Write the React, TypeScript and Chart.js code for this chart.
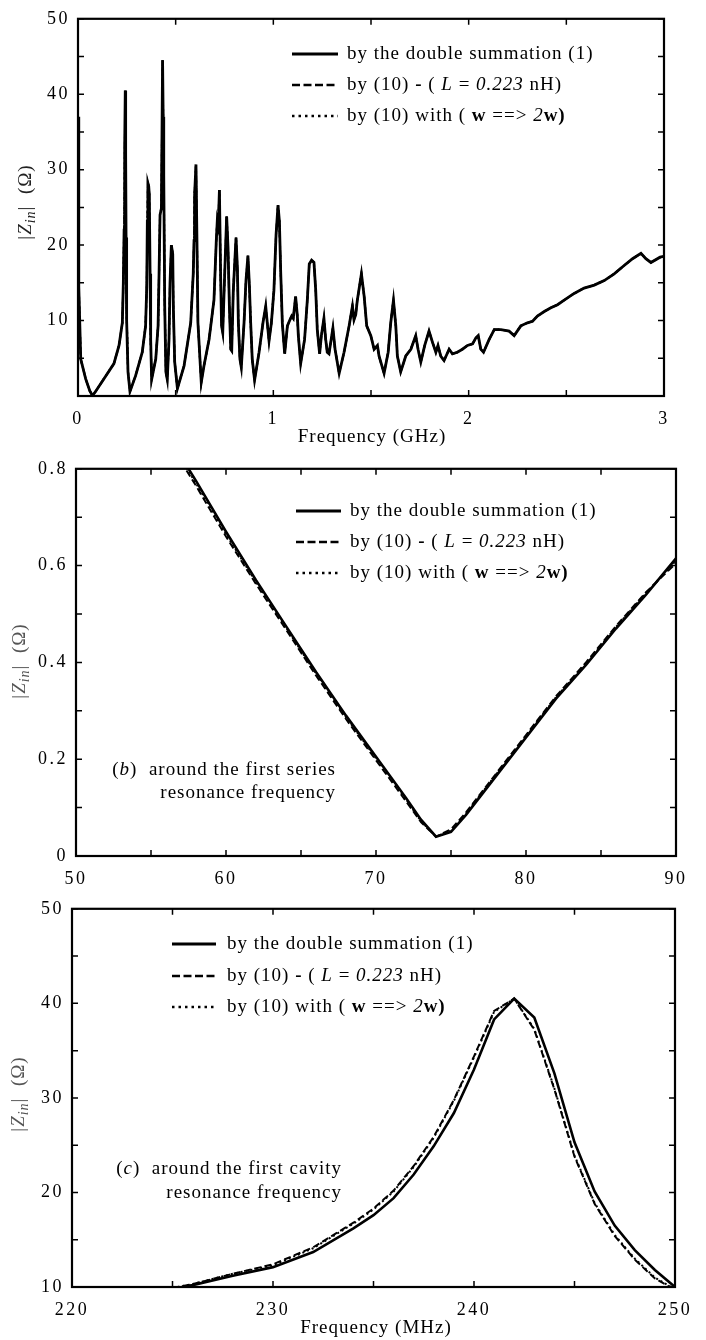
import React, { useEffect, useRef } from 'react';
import { Chart, registerables } from 'chart.js';

Chart.register(...registerables);

const SERIF = "'Liberation Serif', 'Times New Roman', Times, serif";

// ---------- Panel (a): 0 - 3 GHz ----------
const freqA = [
  0.0, 0.004, 0.014, 0.039, 0.06, 0.074, 0.09, 0.133, 0.184, 0.21, 0.227, 0.232, 0.236, 0.238, 0.24, 0.242,
  0.244, 0.246, 0.248, 0.25, 0.256, 0.266, 0.295, 0.329, 0.346, 0.352, 0.355, 0.358, 0.362, 0.365, 0.369,
  0.372, 0.377, 0.398, 0.41, 0.415, 0.42, 0.427, 0.433, 0.436, 0.439, 0.444, 0.45, 0.457, 0.466, 0.471,
  0.478, 0.485, 0.488, 0.495, 0.509, 0.543, 0.577, 0.59, 0.594, 0.597, 0.604, 0.609, 0.614, 0.631, 0.645,
  0.671, 0.696, 0.708, 0.713, 0.718, 0.724, 0.73, 0.735, 0.741, 0.751, 0.761, 0.768, 0.775, 0.782, 0.787,
  0.795, 0.809, 0.816, 0.821, 0.829, 0.836, 0.85, 0.86, 0.87, 0.877, 0.884, 0.892, 0.904, 0.927, 0.947,
  0.961, 0.969, 0.978, 0.99, 1.003, 1.014, 1.024, 1.031, 1.038, 1.046, 1.058, 1.072, 1.085, 1.094, 1.102,
  1.114, 1.123, 1.128, 1.14, 1.16, 1.174, 1.184, 1.196, 1.208, 1.217, 1.225, 1.237, 1.246, 1.259, 1.268,
  1.276, 1.285, 1.305, 1.316, 1.337, 1.362, 1.388, 1.405, 1.413, 1.422, 1.43, 1.451, 1.465, 1.478, 1.499,
  1.516, 1.533, 1.541, 1.567, 1.588, 1.601, 1.615, 1.627, 1.635, 1.652, 1.678, 1.704, 1.729, 1.741, 1.755,
  1.775, 1.797, 1.815, 1.832, 1.843, 1.857, 1.874, 1.9, 1.917, 1.942, 1.968, 1.994, 2.02, 2.037, 2.049,
  2.062, 2.076, 2.105, 2.131, 2.165, 2.207, 2.233, 2.267, 2.301, 2.327, 2.352, 2.387, 2.421, 2.455, 2.489,
  2.54, 2.591, 2.643, 2.694, 2.745, 2.796, 2.839, 2.882, 2.907, 2.933, 2.98, 3.0,
];
const zA = [
  37, 14.5, 4.9, 2.3, 0.7, 0.05, 0.6, 2.3, 4.3, 6.7, 9.7, 14.9, 22.0, 25, 33, 40.5,
  32, 21, 14, 10, 3.2, 0.6, 2.7, 5.8, 9.3, 14.5, 23.2, 28.2, 27.8, 26.7, 16.2,
  7.5, 2.2, 4.9, 9.3, 16.2, 24, 24.9, 44.5, 37, 29.3, 11.9, 3.2, 2.2, 7.5, 14.9,
  20, 18.8, 11.9, 4.5, 1.0, 4, 9.7, 16.2, 20.6, 26.7, 30.7, 20.6, 9.7, 1.8, 4,
  7.5, 12.7, 20.6, 23.2, 22.5, 27.3, 16.2, 9.3, 8.4, 16.2, 23.8, 19.7, 11.9, 6.2, 6.0,
  14, 21, 17, 9.7, 4.9, 3.8, 9.7, 15.3, 18.6, 14.9, 9.7, 4.9, 2.1, 5.8, 9.7,
  11.9, 9.7, 7.3, 9.7, 14, 21.4, 25.3, 23.2, 16.2, 9.7, 5.6, 9.3, 10.1, 10.6, 10.3,
  13.2, 10.6, 8, 4.3, 7.5, 12.7, 17.5, 18, 17.7, 14, 8.8, 5.6, 8, 10.3, 7.5,
  5.8, 5.6, 9, 6.2, 3.0, 5.8, 9.3, 11.9, 10.1, 10.8, 12.7, 16.2, 13.2, 9.3, 8,
  6.2, 6.7, 5.3, 3.0, 5.8, 9.7, 12.7, 9.3, 5.3, 3.2, 5.3, 6.2, 8, 6.2, 4.5,
  6.7, 8.6, 7.1, 5.8, 6.7, 5.3, 4.7, 6.2, 5.6, 5.8, 6.2, 6.7, 6.9, 7.7, 8,
  6.2, 5.8, 7.5, 8.8, 8.8, 8.6, 8, 9.3, 9.7, 9.9, 10.6, 11.2, 11.7, 12.1, 12.7,
  13.6, 14.3, 14.7, 15.3, 16.2, 17.3, 18.2, 18.9, 18.2, 17.7, 18.4, 18.5,
];
const xTicksA = [0, 1, 2, 3];
const xLabelsA = ['0', '1', '2', '3'];
const xMinorA = [0.5, 1.5, 2.5];
const yTicksA = [10, 20, 30, 40, 50];
const yLabelsA = ['10', '20', '30', '40', '50'];
const yMinorA = [5, 15, 25, 35, 45];

// ---------- Panel (b): 50 - 90 MHz ----------
const freqB = [57, 58, 60, 62, 64, 66, 68, 70, 72, 73, 74, 75, 76, 78, 80, 82, 84, 86, 88, 90];
const zBSum = [0.825, 0.775, 0.67, 0.57, 0.475, 0.38, 0.29, 0.205, 0.12, 0.075, 0.04, 0.05, 0.085, 0.165, 0.245, 0.325, 0.395, 0.47, 0.54, 0.615];
const zBL = [0.815, 0.765, 0.66, 0.562, 0.468, 0.373, 0.283, 0.198, 0.113, 0.07, 0.04, 0.055, 0.09, 0.17, 0.25, 0.33, 0.4, 0.475, 0.545, 0.605];
const zB2w = [0.82, 0.77, 0.665, 0.566, 0.472, 0.377, 0.287, 0.202, 0.117, 0.072, 0.04, 0.052, 0.088, 0.168, 0.248, 0.328, 0.398, 0.473, 0.543, 0.61];
const xTicksB = [50, 60, 70, 80, 90];
const xLabelsB = ['50', '60', '70', '80', '90'];
const xMinorB = [55, 65, 75, 85];
const yTicksB = [0, 0.2, 0.4, 0.6, 0.8];
const yLabelsB = ['0', '0.2', '0.4', '0.6', '0.8'];
const yMinorB = [0.1, 0.3, 0.5, 0.7];

// ---------- Panel (c): 220 - 250 MHz ----------
const freqC = [225, 226, 228, 230, 232, 234, 235, 236, 237, 238, 239, 240, 241, 242, 243, 244, 245, 246, 247, 248, 249, 250];
const zCSum = [9.8, 10.2, 11.2, 12.1, 13.7, 16.2, 17.6, 19.4, 21.9, 24.9, 28.4, 33, 38.3, 40.5, 38.5, 32.6, 25.3, 20.1, 16.5, 13.9, 11.8, 10];
const zCL = [9.9, 10.3, 11.4, 12.4, 14.2, 16.8, 18.3, 20.2, 22.8, 25.9, 29.8, 34.4, 39.2, 40.5, 37.2, 30.9, 23.8, 18.8, 15.4, 12.9, 10.9, 9.7];
const zC2w = [9.9, 10.3, 11.4, 12.3, 14.1, 16.7, 18.2, 20.1, 22.7, 25.8, 29.7, 34.3, 39.1, 40.5, 37.3, 31.0, 23.9, 18.9, 15.5, 13.0, 11.0, 9.75];
const xTicksC = [220, 230, 240, 250];
const xLabelsC = ['220', '230', '240', '250'];
const xMinorC = [225, 235, 245];
const yTicksC = [10, 20, 30, 40, 50];
const yLabelsC = ['10', '20', '30', '40', '50'];
const yMinorC = [15, 25, 35, 45];

// ---------- Texts ----------
type Seg = [string, string];
const legendRows: Seg[][] = [
  [['by the double summation (1)', 'n']],
  [['by (10) ', 'n'], ['-', 'b'], [' ( ', 'n'], ['L', 'i'], [' = ', 'n'], ['0.223', 'i'], [' nH)', 'n']],
  [['by (10) with ( ', 'n'], ['w', 'b'], [' ==> ', 'n'], ['2', 'i'], ['w)', 'b']],
];
const yTitleSegs: Seg[] = [['|', 'n'], ['Z', 'i'], ['in', 'is'], ['|', 'n'], ['  (Ω)', 'n']];
const annotB: Seg[][] = [
  [['(', 'n'], ['b', 'i'], [')  around the first series', 'n']],
  [['resonance frequency', 'n']],
];
const annotC: Seg[][] = [
  [['(', 'n'], ['c', 'i'], [')  around the first cavity', 'n']],
  [['resonance frequency', 'n']],
];

const TEXT_SIZE = 19;

function fontFor(style: string, size: number) {
  const it = style.includes('i') ? 'italic ' : '';
  const bd = style.includes('b') ? 'bold ' : '';
  const sz = style.includes('s') ? Math.round(size * 0.72) : size;
  return `${it}${bd}${sz}px ${SERIF}`;
}

function drawRich(ctx: any, segs: Seg[], x: number, y: number, align: string, size: number) {
  let w = 0;
  for (const [t, st] of segs) {
    ctx.font = fontFor(st, size);
    w += ctx.measureText(t).width;
  }
  let cx = align === 'right' ? x - w : align === 'center' ? x - w / 2 : x;
  ctx.textAlign = 'left';
  ctx.textBaseline = 'middle';
  for (const [t, st] of segs) {
    ctx.font = fontFor(st, size);
    const dy = st.includes('s') ? size * 0.3 : 0;
    ctx.fillText(t, cx, y + dy);
    cx += ctx.measureText(t).width;
  }
}

const DASH: Record<string, number[]> = { solid: [], dashed: [8, 3.5], dotted: [2.5, 4] };
const LEG_STYLES = ['solid', 'dashed', 'dotted'];

function makeOverlay(spec: any) {
  return {
    id: 'overlay',
    beforeDraw(chart: any) {
      chart.ctx.letterSpacing = '2.5px';
    },
    afterDraw(chart: any) {
      const { ctx, chartArea: a, scales } = chart;
      const xs = scales.x;
      const ys = scales.y;
      ctx.save();
      ctx.setLineDash([]);
      ctx.strokeStyle = '#000';
      ctx.lineWidth = 1.5;
      ctx.beginPath();
      for (const v of [...spec.xTicks, ...spec.xMinor]) {
        const p = xs.getPixelForValue(v);
        ctx.moveTo(p, a.bottom);
        ctx.lineTo(p, a.bottom - 6);
        ctx.moveTo(p, a.top);
        ctx.lineTo(p, a.top + 6);
      }
      for (const v of [...spec.yTicks, ...spec.yMinor]) {
        const p = ys.getPixelForValue(v);
        ctx.moveTo(a.left, p);
        ctx.lineTo(a.left + 6, p);
        ctx.moveTo(a.right, p);
        ctx.lineTo(a.right - 6, p);
      }
      ctx.stroke();
      ctx.lineWidth = 2.2;
      ctx.strokeRect(a.left, a.top, a.right - a.left, a.bottom - a.top);

      ctx.letterSpacing = '1px';
      ctx.fillStyle = '#000';
      const L = spec.legend;
      LEG_STYLES.forEach((st, i) => {
        const y = L.rows[i];
        ctx.beginPath();
        ctx.setLineDash(DASH[st]);
        ctx.lineWidth = st === 'solid' ? 3 : 2.5;
        ctx.moveTo(L.x0, y);
        ctx.lineTo(L.x1, y);
        ctx.stroke();
        ctx.setLineDash([]);
        drawRich(ctx, legendRows[i], L.tx, y, 'left', TEXT_SIZE);
      });

      if (spec.annot) {
        spec.annot.lines.forEach((segs: Seg[], i: number) => {
          drawRich(ctx, segs, spec.annot.x, spec.annot.ys[i], 'right', TEXT_SIZE);
        });
      }

      if (spec.xTitle) {
        drawRich(ctx, [[spec.xTitle.text, 'n']], spec.xTitle.x, spec.xTitle.y, 'center', TEXT_SIZE);
      }

      ctx.save();
      ctx.fillStyle = spec.yTitle.color;
      ctx.translate(spec.yTitle.x, spec.yTitle.y);
      ctx.rotate(-Math.PI / 2);
      drawRich(ctx, yTitleSegs, 0, 0, 'center', TEXT_SIZE);
      ctx.restore();

      ctx.restore();
    },
  };
}

function makeConfig(spec: any) {
  const styleProps: Record<string, any> = {
    solid: { borderDash: [], borderWidth: spec.solidWidth },
    dashed: { borderDash: [7, 3.5], borderWidth: 2 },
    dotted: { borderDash: [2, 3], borderWidth: 2 },
  };
  const tickFont = { family: SERIF, size: 18 };
  return {
    type: 'line',
    data: {
      datasets: spec.series.map((s: any) => ({
        label: s.label,
        data: s.x.map((f: number, i: number) => ({ x: f, y: s.y[i] })),
        borderColor: '#000',
        backgroundColor: '#000',
        pointRadius: 0,
        tension: 0,
        fill: false,
        ...styleProps[s.style],
      })),
    },
    options: {
      responsive: false,
      animation: false,
      devicePixelRatio: 1,
      events: [],
      layout: { padding: spec.padding },
      plugins: { legend: { display: false }, tooltip: { enabled: false } },
      scales: {
        x: {
          type: 'linear',
          min: spec.xMin,
          max: spec.xMax,
          grid: { display: false, drawTicks: false },
          border: { display: false },
          afterBuildTicks: (sc: any) => {
            sc.ticks = spec.xTicks.map((v: number) => ({ value: v }));
          },
          afterFit: (sc: any) => {
            sc.height = spec.xHeight;
          },
          ticks: {
            autoSkip: false,
            maxRotation: 0,
            padding: spec.xPad,
            color: '#000',
            font: tickFont,
            callback: (_v: any, i: number) => spec.xLabels[i],
          },
        },
        y: {
          type: 'linear',
          min: spec.yMin,
          max: spec.yMax,
          grid: { display: false, drawTicks: false },
          border: { display: false },
          afterBuildTicks: (sc: any) => {
            sc.ticks = spec.yTicks.map((v: number) => ({ value: v }));
          },
          afterFit: (sc: any) => {
            sc.width = spec.yWidth;
          },
          ticks: {
            autoSkip: false,
            padding: 8,
            color: '#000',
            font: tickFont,
            callback: (_v: any, i: number) => spec.yLabels[i],
          },
        },
      },
    },
    plugins: [makeOverlay(spec)],
  };
}

const specA = {
  top: 0, height: 450, yWidth: 78, xHeight: 54, xPad: 12, solidWidth: 2.8,
  padding: { left: 0, right: 42, top: 12, bottom: 0 },
  xMin: 0, xMax: 3, yMin: 0, yMax: 50,
  xTicks: xTicksA, xLabels: xLabelsA, xMinor: xMinorA,
  yTicks: yTicksA, yLabels: yLabelsA, yMinor: yMinorA,
  series: [
    { label: 'by the double summation (1)', style: 'solid', x: freqA, y: zA },
    { label: 'by (10) - (L = 0.223 nH)', style: 'dashed', x: freqA, y: zA },
    { label: 'by (10) with (w ==> 2w)', style: 'dotted', x: freqA, y: zA },
  ],
  legend: { x0: 292, x1: 338, tx: 347, rows: [54, 85, 116] },
  annot: null,
  xTitle: { text: 'Frequency (GHz)', x: 372, y: 437 },
  yTitle: { x: 26, y: 202, color: '#222' },
};

const specB = {
  top: 450, height: 440, yWidth: 76, xHeight: 34, xPad: 12, solidWidth: 2.6,
  padding: { left: 0, right: 30, top: 18, bottom: 0 },
  xMin: 50, xMax: 90, yMin: 0, yMax: 0.8,
  xTicks: xTicksB, xLabels: xLabelsB, xMinor: xMinorB,
  yTicks: yTicksB, yLabels: yLabelsB, yMinor: yMinorB,
  series: [
    { label: 'by the double summation (1)', style: 'solid', x: freqB, y: zBSum },
    { label: 'by (10) - (L = 0.223 nH)', style: 'dashed', x: freqB, y: zBL },
    { label: 'by (10) with (w ==> 2w)', style: 'dotted', x: freqB, y: zB2w },
  ],
  legend: { x0: 296, x1: 341, tx: 350, rows: [61, 92, 123] },
  annot: { x: 336, ys: [320, 343], lines: annotB },
  xTitle: null,
  yTitle: { x: 20, y: 211, color: '#555' },
};

const specC = {
  top: 890, height: 450, yWidth: 72, xHeight: 53, xPad: 12, solidWidth: 2.6,
  padding: { left: 0, right: 31, top: 13, bottom: 0 },
  xMin: 220, xMax: 250, yMin: 10, yMax: 50,
  xTicks: xTicksC, xLabels: xLabelsC, xMinor: xMinorC,
  yTicks: yTicksC, yLabels: yLabelsC, yMinor: yMinorC,
  series: [
    { label: 'by the double summation (1)', style: 'solid', x: freqC, y: zCSum },
    { label: 'by (10) - (L = 0.223 nH)', style: 'dashed', x: freqC, y: zCL },
    { label: 'by (10) with (w ==> 2w)', style: 'dotted', x: freqC, y: zC2w },
  ],
  legend: { x0: 172, x1: 216, tx: 227, rows: [54, 86, 117] },
  annot: { x: 342, ys: [279, 303], lines: annotC },
  xTitle: { text: 'Frequency (MHz)', x: 376, y: 438 },
  yTitle: { x: 19, y: 204, color: '#555' },
};

function Panel({ spec }: { spec: any }) {
  const ref = useRef<HTMLCanvasElement | null>(null);
  useEffect(() => {
    if (!ref.current) return;
    const chart = new Chart(ref.current, makeConfig(spec) as any);
    return () => chart.destroy();
  }, [spec]);
  return (
    <canvas
      ref={ref}
      width={706}
      height={spec.height}
      style={{ position: 'absolute', left: 0, top: spec.top, width: 706, height: spec.height }}
    />
  );
}

export default function App() {
  return (
    <div style={{ position: 'absolute', left: 0, top: 0, width: 706, height: 1340, background: '#fff' }}>
      <Panel spec={specA} />
      <Panel spec={specB} />
      <Panel spec={specC} />
    </div>
  );
}
